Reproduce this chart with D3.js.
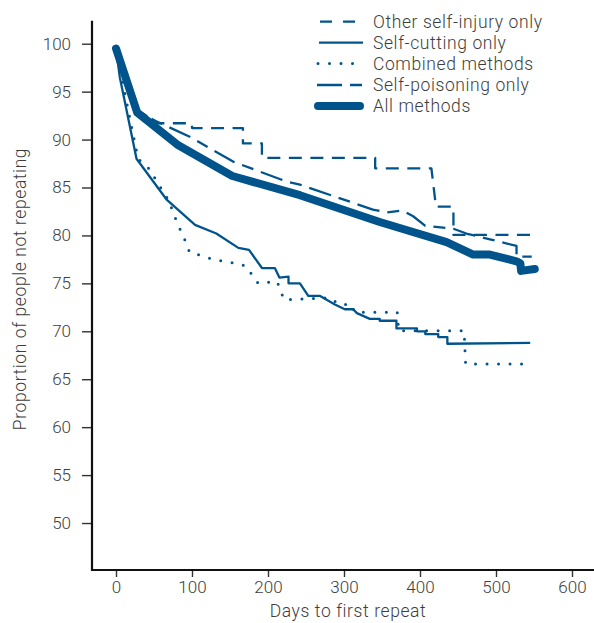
<!DOCTYPE html>
<html>
<head>
<meta charset="utf-8">
<script src="https://cdn.jsdelivr.net/npm/d3@7"></script>
<style>
  html, body { margin: 0; padding: 0; background: #fff; }
  svg { display: block; }
  text { font-family: Roboto, "Open Sans", sans-serif; fill: #3d3d3d; font-weight: 300; }
  .wide { letter-spacing: 0.6px; }
</style>
</head>
<body>
<svg id="chart" width="594" height="623"></svg>
<script>
// ---- Data ----
const xTicks = [0, 100, 200, 300, 400, 500, 600];
const yTicks = [50, 55, 60, 65, 70, 75, 80, 85, 90, 95, 100];

const seriesNames = ["Other self-injury only", "Self-cutting only", "Combined methods", "Self-poisoning only", "All methods"];

// [days, proportion not repeating]
const otherSelfInjury = [
  [0, 99.5], [28, 93.1], [40, 92.5], [40, 92.0], [50, 91.7], [100, 91.7], [100, 91.2],
  [167, 91.2], [167, 89.6], [192, 89.6], [192, 88.1], [341, 88.1], [341, 87.0],
  [415, 87.0], [421, 83.0], [444, 83.0], [444, 80.05], [547, 80.05]
];
const selfCutting = [
  [0, 99.5], [5, 96.5], [27, 88.0], [67, 83.7], [104, 81.1], [132, 80.2], [161, 78.7],
  [175, 78.5], [192, 76.6], [209, 76.6], [215, 75.6], [227, 75.7], [227, 75.0],
  [242, 75.0], [253, 73.7], [268, 73.7], [288, 72.8], [301, 72.3], [312, 72.3],
  [317, 71.9], [334, 71.3], [347, 71.3], [347, 71.1], [369, 71.1], [369, 70.3],
  [396, 70.3], [396, 70.0], [407, 70.0], [407, 69.7], [424, 69.7], [424, 69.4],
  [436, 69.4], [436, 68.7], [545, 68.8]
];
const combined = [
  [0, 99.5], [16, 93.1], [29, 88.0], [43, 87.0], [69, 83.7], [80, 81.4], [92, 79.3],
  [97, 78.2], [108, 78.0], [124, 77.6], [141, 77.3], [157, 77.1], [171, 76.8],
  [187, 75.0], [212, 75.2], [221, 73.3], [282, 73.5], [293, 72.8], [310, 72.8],
  [314, 72.0], [370, 72.0], [372, 70.05], [458, 70.05], [460, 66.6], [547, 66.6]
];
const selfPoisoning = [
  [0, 99.5], [28, 93.0], [53, 91.9], [97, 90.3], [154, 87.7], [225, 85.6], [242, 85.3],
  [338, 82.7], [356, 82.4], [377, 82.6], [391, 82.0], [407, 81.0], [444, 80.7],
  [461, 80.2], [492, 79.6], [527, 78.9], [527, 77.8], [547, 77.8]
];
const allMethods = [
  [0, 99.5], [28, 92.8], [82, 89.4], [153, 86.2], [242, 84.2], [347, 81.4], [435, 79.3],
  [470, 78.0], [492, 78.0], [527, 77.3], [532, 77.1], [533, 76.3], [551, 76.5]
];

// ---- Layout ----
const svg = d3.select("#chart");
const blue = "#00548b";

const x = d3.scaleLinear().domain([0, 600]).range([116, 572]);
const y = d3.scaleLinear().domain([45.1, 102.4]).range([570, 20.7]);
const xAxisStart = 92, xAxisEnd = 594;

// Axes
const yAxis = d3.axisLeft(y).tickValues(yTicks).tickSize(10).tickPadding(11).tickSizeOuter(0);
const gy = svg.append("g").attr("transform", `translate(${xAxisStart},0)`).call(yAxis);
gy.select(".domain").remove();
gy.selectAll(".tick line").attr("stroke", "#333").attr("stroke-width", 1.4);
gy.selectAll(".tick text").attr("font-size", 17).attr("font-family", null);

const xAxis = d3.axisBottom(x).tickValues(xTicks).tickSize(7).tickPadding(4).tickSizeOuter(0);
const gx = svg.append("g").attr("transform", `translate(0,${y(45.1)})`).call(xAxis);
gx.select(".domain").remove();
gx.selectAll(".tick line").attr("stroke", "#333").attr("stroke-width", 1.4);
gx.selectAll(".tick text").attr("font-size", 17).attr("font-family", null);

// axis lines
svg.append("line").attr("x1", xAxisStart).attr("x2", xAxisStart)
  .attr("y1", y(102.4)).attr("y2", y(45.1) + 1)
  .attr("stroke", "#111").attr("stroke-width", 2.2);
svg.append("line").attr("x1", xAxisStart - 1).attr("x2", xAxisEnd)
  .attr("y1", y(45.1)).attr("y2", y(45.1))
  .attr("stroke", "#111").attr("stroke-width", 2.2);

// axis titles
svg.append("text").attr("class", "wide").attr("x", 348).attr("y", 617).attr("text-anchor", "middle")
  .attr("font-size", 17.5).text("Days to first repeat");
svg.append("text").attr("class", "wide").attr("transform", "translate(26,289) rotate(-90)")
  .attr("text-anchor", "middle").attr("font-size", 17.5)
  .text("Proportion of people not repeating");

// ---- Lines ----
const line = d3.line().x(d => x(d[0])).y(d => y(d[1]));

const styles = [
  { data: otherSelfInjury, width: 2.3, dash: "13,8.5", cap: "butt" },
  { data: selfCutting, width: 2.3, dash: null, cap: "butt" },
  { data: combined, width: 3, dash: "0,11.5", cap: "round" },
  { data: selfPoisoning, width: 2.3, dash: "23,8,12,8", cap: "butt" },
  { data: allMethods, width: 8, dash: null, cap: "round" }
];

styles.forEach(s => {
  svg.append("path").datum(s.data).attr("d", line)
    .attr("fill", "none").attr("stroke", blue)
    .attr("stroke-width", s.width)
    .attr("stroke-linecap", s.cap).attr("stroke-linejoin", "round")
    .attr("stroke-dasharray", s.dash);
});

// ---- Legend ----
const legY = [21.7, 42.7, 63.6, 85, 106];
const legendSamples = [
  { x1: 320, x2: 357 },
  { x1: 319, x2: 363 },
  { x1: 318, x2: 360 },
  { x1: 317, x2: 363 },
  { x1: 318, x2: 360 }
];
seriesNames.forEach((name, i) => {
  const s = styles[i], ls = legendSamples[i];
  svg.append("line").attr("x1", ls.x1).attr("x2", ls.x2)
    .attr("y1", legY[i]).attr("y2", legY[i])
    .attr("stroke", blue).attr("stroke-width", s.width)
    .attr("stroke-linecap", s.cap)
    .attr("stroke-dasharray", i === 0 ? "12,11" : (i === 3 ? "25,8,12,8" : s.dash));
  svg.append("text").attr("class", "wide").attr("x", 373).attr("y", legY[i]).attr("dy", "0.36em")
    .attr("font-size", 17.5).text(name);
});
</script>
</body>
</html>
